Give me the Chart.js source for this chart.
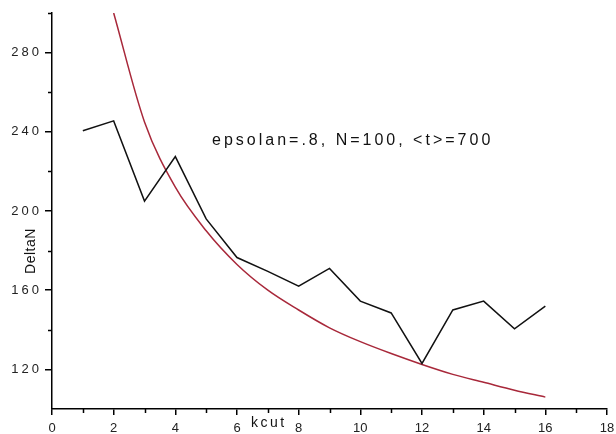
<!DOCTYPE html>
<html>
<head>
<meta charset="utf-8">
<script src="https://cdn.jsdelivr.net/npm/chart.js@4/dist/chart.umd.min.js"></script>
<style>
html,body{margin:0;padding:0;background:#fff;}
#wrap{width:616px;height:434px;position:relative;}
</style>
</head>
<body>
<div id="wrap"><canvas id="c" width="616" height="434"></canvas></div>
<script>
// ---- data ----
const kcut = [1, 2, 3, 4, 5, 6, 7, 8, 9, 10, 11, 12, 13, 14, 15, 16];
const deltaN = [240.5, 245.5, 205, 227.5, 196, 176.5, 169.5, 162, 171, 154.5, 148.5, 123, 150, 154.5, 140.5, 152];
const fitK = [2, 3, 4, 5, 6, 7, 8, 9, 10, 11, 12, 13, 14, 15, 16];
const fitDeltaN = [300, 245, 212, 190, 173, 160, 150, 141, 134, 128, 122.5, 117.5, 113.5, 109.5, 106];
const xMajorTicks = [0, 2, 4, 6, 8, 10, 12, 14, 16, 18];
const yMajorTicks = [120, 160, 200, 240, 280];
const xLabel = 'kcut';
const yLabel = 'DeltaN';
const note = 'epsolan=.8, N=100, <t>=700';

const FONT = "'Liberation Sans', Arial, sans-serif";

const extras = {
  id: 'extras',
  beforeDraw(chart) { chart.ctx.letterSpacing = '0px'; },
  afterDatasetsDraw(chart) { chart.ctx.letterSpacing = '3px'; },
  afterDraw(chart) {
    const ctx = chart.ctx;
    const xs = chart.scales.x, ys = chart.scales.y;
    ctx.save();
    ctx.letterSpacing = '0px';
    ctx.strokeStyle = '#000';
    ctx.lineWidth = 1.5;
    // minor ticks
    ctx.beginPath();
    for (let v = xs.min; v <= xs.max; v += 1) {
      if (xMajorTicks.includes(v)) continue;
      const px = Math.round(xs.getPixelForValue(v)) + 0.5;
      ctx.moveTo(px, xs.top);
      ctx.lineTo(px, xs.top + 4);
    }
    for (let v = ys.min; v <= ys.max; v += 20) {
      if (yMajorTicks.includes(v) || v === ys.min) continue;
      const py = Math.round(ys.getPixelForValue(v)) + 0.5;
      ctx.moveTo(ys.right, py);
      ctx.lineTo(ys.right - 4, py);
    }
    ctx.stroke();

    // axis titles and note
    ctx.fillStyle = '#111';
    ctx.textAlign = 'left';
    ctx.textBaseline = 'alphabetic';
    ctx.font = '14px ' + FONT;
    ctx.letterSpacing = '2.5px';
    ctx.fillText(xLabel, 251, 427);

    ctx.save();
    ctx.translate(35, 251);
    ctx.rotate(-Math.PI / 2);
    ctx.letterSpacing = '0.5px';
    ctx.textAlign = 'center';
    ctx.fillText(yLabel, 0, 0);
    ctx.restore();

    ctx.font = '16px ' + FONT;
    ctx.letterSpacing = '3px';
    ctx.textAlign = 'left';
    ctx.fillText(note, 212, 145);
    ctx.restore();
  }
};

new Chart(document.getElementById('c'), {
  type: 'line',
  data: {
    datasets: [
      {
        label: 'DeltaN',
        data: kcut.map((k, i) => ({ x: k, y: deltaN[i] })),
        borderColor: '#111',
        borderWidth: 1.5,
        pointRadius: 0,
        tension: 0,
        fill: false
      },
      {
        label: 'fit',
        data: fitK.map((k, i) => ({ x: k, y: fitDeltaN[i] })),
        borderColor: '#a8283a',
        borderWidth: 1.5,
        pointRadius: 0,
        cubicInterpolationMode: 'monotone',
        fill: false
      }
    ]
  },
  options: {
    responsive: false,
    animation: false,
    devicePixelRatio: 1,
    layout: { padding: { top: 13, right: 9, left: 0, bottom: 0 } },
    plugins: { legend: { display: false }, tooltip: { enabled: false } },
    scales: {
      x: {
        type: 'linear',
        min: 0, max: 18,
        afterFit(s) { s.height = 25; s.paddingLeft = 0; s.paddingRight = 0; },
        afterBuildTicks(s) { s.ticks = xMajorTicks.map(v => ({ value: v })); },
        ticks: { font: { family: FONT, size: 13 }, color: '#222', padding: 6, maxRotation: 0, autoSkip: false },
        grid: { display: true, drawOnChartArea: false, drawTicks: true, tickLength: 6, color: '#000', lineWidth: 1.5 },
        border: { display: true, color: '#000', width: 1.5 }
      },
      y: {
        type: 'linear',
        min: 100, max: 300,
        afterFit(s) { s.width = 52; s.paddingTop = 0; s.paddingBottom = 0; },
        afterBuildTicks(s) { s.ticks = yMajorTicks.map(v => ({ value: v })); },
        ticks: { font: { family: FONT, size: 13 }, color: '#222', padding: 3, z: 1, autoSkip: false },
        grid: { display: true, drawOnChartArea: false, drawTicks: true, tickLength: 7, color: '#000', lineWidth: 1.5 },
        border: { display: true, color: '#000', width: 1.5 }
      }
    }
  },
  plugins: [extras]
});
</script>
</body>
</html>
